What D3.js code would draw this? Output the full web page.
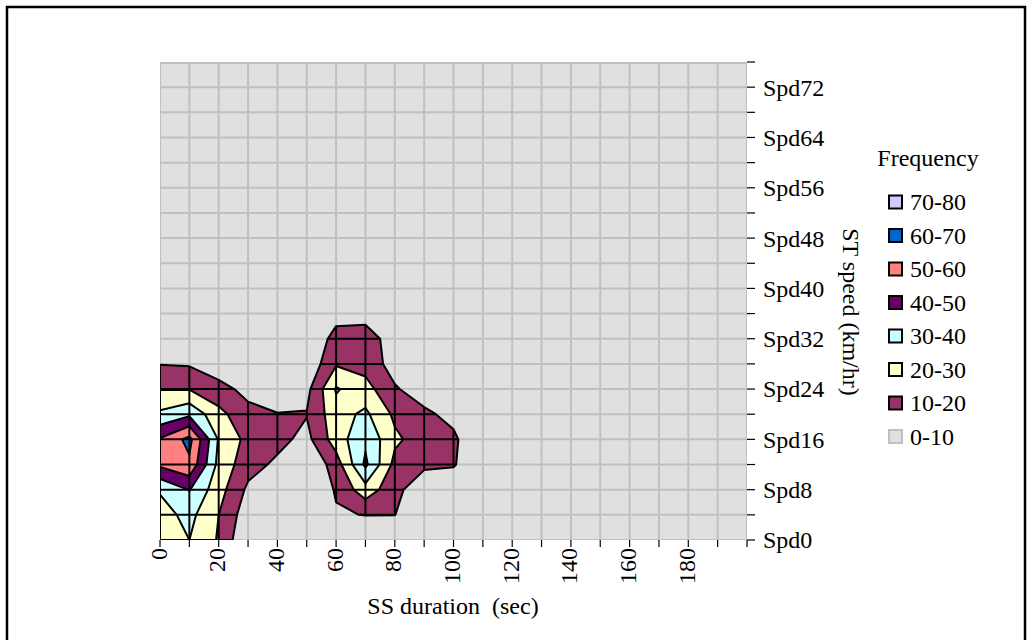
<!DOCTYPE html>
<html><head><meta charset="utf-8">
<script src="https://cdn.jsdelivr.net/npm/d3@7"></script>
<style>
body{margin:0;background:#fff}
svg{display:block}
text{font-family:"Liberation Serif","Times New Roman",serif;fill:#000}
</style>
</head><body>
<svg id="chart" width="1033" height="640"></svg>
<script>
// ---- data ----
const durations = [0,10,20,30,40,50,60,70,80,90,100,110,120,130,140,150,160,170,180,190,200];
const speeds = [0,4,8,12,16,20,24,28,32,36,40,44,48,52,56,60,64,68,72,76];
const durationLabels = [0,20,40,60,80,100,120,140,160,180];
const speedLabels = ["Spd0","Spd8","Spd16","Spd24","Spd32","Spd40","Spd48","Spd56","Spd64","Spd72"];
const speedLabelValues = [0,8,16,24,32,40,48,56,64,72];
const bandLabels = ["70-80","60-70","50-60","40-50","30-40","20-30","10-20","0-10"];
const bandColors = ["#ccccff","#0066cc","#ff8080","#660066","#ccffff","#ffffcc","#993366","#e0e0e0"];
const thresholds = [10,20,30,40,50,60,70];
// frequency per speed row (Spd0, Spd4, ... Spd36) for durations 0..110 sec; all other cells are below 10
const freqSpd0  = [22,30,19,0,0,0,0,0,0,0,0,0];
const freqSpd4  = [26,33,20,4,0,0,9,10.3,10.2,0,0,0];
const freqSpd8  = [31,40.5,24,8,3,0,11,26,13,3,2,0];
const freqSpd12 = [52,58,27,14,8,0,15,42,17,12,11,0];
const freqSpd16 = [51,63,29,17,13,7,25,38,22,15,12,0];
const freqSpd20 = [32,38,23,13,10.5,10.5,26,32,18,12,7,0];
const freqSpd24 = [19.5,19.5,13.4,7,2,7,31,24,11,5,0,0];
const freqSpd28 = [9.7,9,4,0,0,2,19,16,6,0,0,0];
const freqSpd32 = [3,2,0,0,0,0,14,15,5,0,0,0];
const freqSpd36 = [0,0,0,0,0,0,6,6,0,0,0,0];
const freqRows = [freqSpd0,freqSpd4,freqSpd8,freqSpd12,freqSpd16,freqSpd20,freqSpd24,freqSpd28,freqSpd32,freqSpd36];

// ---- layout ----
const svg = d3.select("#chart");
const L = 160, R = 747, T = 62, B = 540;
const x = d3.scaleLinear().domain([0,200]).range([L,R]);
const y = d3.scaleLinear().domain([0,76]).range([B,T]);

// outer border
svg.append("rect").attr("x",7).attr("y",7).attr("width",1018).attr("height",660)
  .attr("fill","none").attr("stroke","#000").attr("stroke-width",2.5);

// grid values
const nx = durations.length, ny = speeds.length;
const values = new Array(nx*ny).fill(0);
for (let j=0;j<ny;j++) for (let i=0;i<nx;i++) {
  const row = freqRows[j];
  values[j*nx+i] = (row && row[i] !== undefined) ? row[i] : 0;
}
const xi = d3.scaleLinear().domain([0,nx-1]).range([x(durations[0]), x(durations[nx-1])]);
const yi = d3.scaleLinear().domain([0,ny-1]).range([y(speeds[0]), y(speeds[ny-1])]);
const proj = d3.geoTransform({point(px,py){ this.stream.point(xi(px-0.5), yi(py-0.5)); }});
const path = d3.geoPath(proj);
const contours = d3.contours().size([nx,ny]).thresholds(thresholds)(values);

const defs = svg.append("defs");
defs.append("clipPath").attr("id","plotClip").append("rect")
  .attr("x",L).attr("y",T).attr("width",R-L).attr("height",B-T);
defs.append("clipPath").attr("id","colClip").append("path").attr("d",path(contours[0]));

const plot = svg.append("g").attr("clip-path","url(#plotClip)");
plot.append("rect").attr("x",L).attr("y",T).attr("width",R-L).attr("height",B-T).attr("fill","#e0e0e0");

function gridLines(g, color){
  g.selectAll("line.v").data(durations).join("line").attr("class","v")
    .attr("x1",d=>x(d)).attr("x2",d=>x(d)).attr("y1",T).attr("y2",B)
    .attr("stroke",color).attr("stroke-width",2);
  g.selectAll("line.h").data(speeds).join("line").attr("class","h")
    .attr("x1",L).attr("x2",R).attr("y1",d=>y(d)).attr("y2",d=>y(d))
    .attr("stroke",color).attr("stroke-width",2);
}
gridLines(plot.append("g"), "#c0c0c0");
plot.append("line").attr("x1",L).attr("x2",R).attr("y1",T+1).attr("y2",T+1).attr("stroke","#c0c0c0").attr("stroke-width",2);

// filled bands (band colours ordered from 10-20 upward)
const fillFor = t => bandColors[bandColors.length-2 - thresholds.indexOf(t)];
plot.append("g").selectAll("path").data(contours).join("path")
  .attr("d",path).attr("fill",d=>fillFor(d.value)).attr("stroke","none");
// black mesh in coloured area
gridLines(plot.append("g").attr("clip-path","url(#colClip)"), "#000");
// contour outlines
plot.append("g").selectAll("path").data(contours).join("path")
  .attr("d",path).attr("fill","none").attr("stroke","#000").attr("stroke-width",2).attr("stroke-linejoin","round");

// ---- axes ----
const fs = 24;
const xAxis = svg.append("g");
xAxis.selectAll("line").data(durations).join("line")
  .attr("x1",d=>x(d)).attr("x2",d=>x(d)).attr("y1",B).attr("y2",B+7).attr("stroke","#000").attr("stroke-width",1.2);
xAxis.selectAll("text").data(durationLabels).join("text")
  .attr("transform",d=>`translate(${x(d)+1},${B+8}) rotate(-90)`)
  .attr("text-anchor","end").attr("dominant-baseline","middle").attr("font-size",fs).text(d=>d);

const yAxis = svg.append("g");
yAxis.selectAll("line").data(speeds).join("line")
  .attr("x1",R).attr("x2",R+8).attr("y1",d=>y(d)).attr("y2",d=>y(d)).attr("stroke","#000").attr("stroke-width",1.2);
yAxis.selectAll("text").data(speedLabelValues).join("text")
  .attr("x",R+16).attr("y",d=>y(d)).attr("dy","0.35em").attr("font-size",fs)
  .text((d,i)=>speedLabels[i]);

svg.append("text").attr("x",453).attr("y",614).attr("text-anchor","middle").attr("font-size",fs)
  .style("white-space","pre").text("SS duration  (sec)");
svg.append("text").attr("transform","translate(843,312) rotate(90)").attr("text-anchor","middle")
  .attr("font-size",fs).text("ST speed (km/hr)");

// ---- legend ----
const leg = svg.append("g");
leg.append("text").attr("x",928).attr("y",166).attr("text-anchor","middle").attr("font-size",fs).text("Frequency");
const rowY = i => 202 + i*33.5;
leg.selectAll("rect").data(bandLabels).join("rect")
  .attr("x",889).attr("y",(d,i)=>rowY(i)-6.5).attr("width",13).attr("height",13)
  .attr("fill",(d,i)=>bandColors[i])
  .attr("stroke",(d,i)=>i===bandLabels.length-1?"#c0c0c0":"#000").attr("stroke-width",2);
leg.selectAll("text.lab").data(bandLabels).join("text").attr("class","lab")
  .attr("x",910).attr("y",(d,i)=>rowY(i)).attr("dy","0.35em").attr("font-size",fs).text(d=>d);
</script>
</body></html>
